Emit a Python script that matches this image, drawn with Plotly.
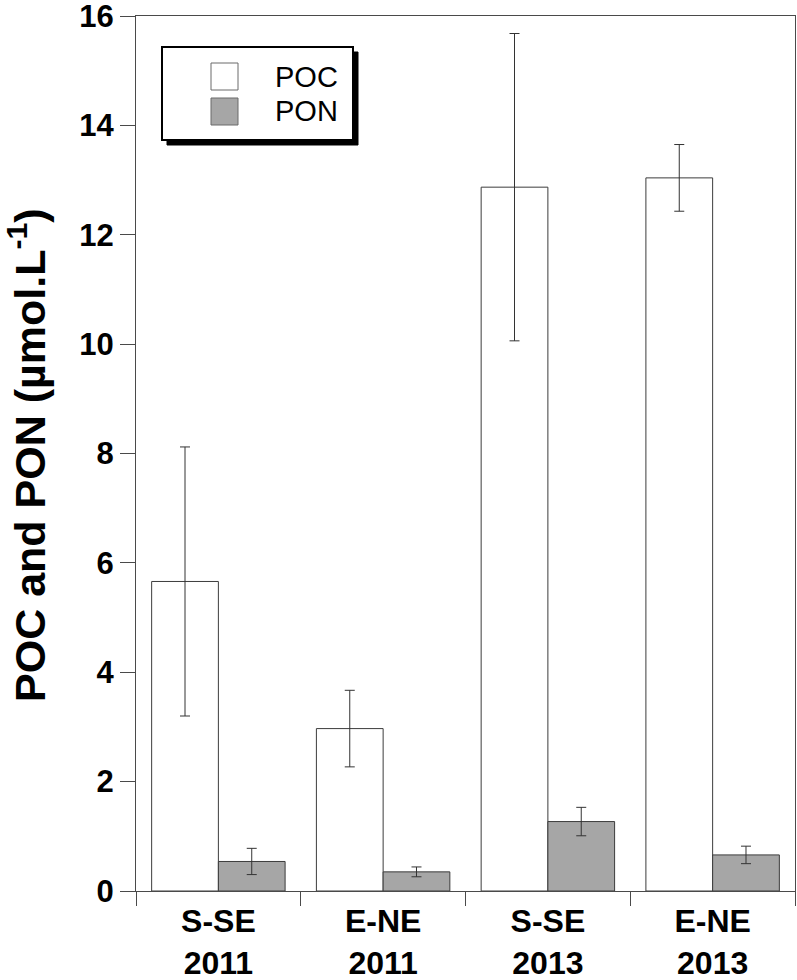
import plotly.graph_objects as go

# data
CATEGORIES :list[str] = ["S-SE<br>2011", "E-NE<br>2011", "S-SE<br>2013", "E-NE<br>2013"]
POC_VALUES :list[float] = [5.66, 2.97, 12.87, 13.04]
POC_ERRORS :list[float] = [2.46, 0.70, 2.81, 0.61]
PON_VALUES :list[float] = [0.54, 0.35, 1.27, 0.66]
PON_ERRORS :list[float] = [0.24, 0.09, 0.26, 0.16]
Y_TICKS :list[int] = [0, 2, 4, 6, 8, 10, 12, 14, 16]
Y_TITLE :str = "POC and PON (µmol.L<sup>-1</sup>)"

# styling
FONT_FAMILY :str = "Arial, Liberation Sans, sans-serif"
AXIS_COLOR :str = "#4a4a4a"
BAR_LINE_COLOR :str = "#3c3c3c"
POC_COLOR :str = "#ffffff"
PON_COLOR :str = "#a6a6a6"
ERROR_COLOR :str = "#333333"

WIDTH :int = 797
HEIGHT :int = 980
MARGIN :dict[str, int] = dict(l=136, r=2, t=16, b=89)


def px_to_paper_x(px: float) -> float:
    """Converts a pixel x position into paper coordinates."""
    return (px - MARGIN["l"]) / (WIDTH - MARGIN["l"] - MARGIN["r"])


def px_to_paper_y(px: float) -> float:
    """Converts a pixel y position (from top) into paper coordinates."""
    plot_h = HEIGHT - MARGIN["t"] - MARGIN["b"]
    return (HEIGHT - MARGIN["b"] - px) / plot_h


def build_bar(name: str, values: list[float], errors: list[float], color: str) -> go.Bar:
    return go.Bar(
        x=CATEGORIES,
        y=values,
        name=name,
        marker=dict(color=color, line=dict(color=BAR_LINE_COLOR, width=1)),
        error_y=dict(type="data", array=errors, visible=True, color=ERROR_COLOR, thickness=1, width=5),
        showlegend=False,
    )


fig = go.Figure()
fig.add_trace(build_bar("POC", POC_VALUES, POC_ERRORS, POC_COLOR))
fig.add_trace(build_bar("PON", PON_VALUES, PON_ERRORS, PON_COLOR))

# hand-drawn legend box with a drop shadow, like the original
legend_box = (162, 47, 353, 140)
shadow = 5
shapes = [
    dict(type="rect", xref="paper", yref="paper",
         x0=px_to_paper_x(legend_box[0] + shadow), x1=px_to_paper_x(legend_box[2] + shadow),
         y0=px_to_paper_y(legend_box[3] + shadow), y1=px_to_paper_y(legend_box[1] + shadow),
         fillcolor="black", line=dict(color="black", width=1), layer="above"),
    dict(type="rect", xref="paper", yref="paper",
         x0=px_to_paper_x(legend_box[0]), x1=px_to_paper_x(legend_box[2]),
         y0=px_to_paper_y(legend_box[3]), y1=px_to_paper_y(legend_box[1]),
         fillcolor="white", line=dict(color="black", width=2), layer="above"),
]
annotations = []
for (name, color, top) in [("POC", POC_COLOR, 63), ("PON", PON_COLOR, 98)]:
    shapes.append(dict(type="rect", xref="paper", yref="paper",
                       x0=px_to_paper_x(211), x1=px_to_paper_x(238),
                       y0=px_to_paper_y(top + 27), y1=px_to_paper_y(top),
                       fillcolor=color, line=dict(color="#6a6a6a", width=1), layer="above"))
    annotations.append(dict(text=name, xref="paper", yref="paper",
                            x=px_to_paper_x(273), y=px_to_paper_y(top + 13.5),
                            xanchor="left", yanchor="middle", showarrow=False,
                            font=dict(family=FONT_FAMILY, size=29, color="black")))

# y-axis title as a rotated annotation so its position is fixed
annotations.append(dict(text=Y_TITLE, xref="paper", yref="paper",
                        x=px_to_paper_x(27), y=px_to_paper_y(455),
                        xanchor="center", yanchor="middle", textangle=-90, showarrow=False,
                        font=dict(family=FONT_FAMILY, size=43, color="black", weight="bold")))

fig.update_layout(
    width=WIDTH,
    height=HEIGHT,
    margin=MARGIN,
    plot_bgcolor="white",
    paper_bgcolor="white",
    barmode="group",
    bargap=0.19,
    bargroupgap=0,
    font=dict(family=FONT_FAMILY, color="black"),
    shapes=shapes,
    annotations=annotations,
    xaxis=dict(
        automargin=False,
        showgrid=False,
        showline=True,
        linecolor=AXIS_COLOR,
        linewidth=1,
        mirror=True,
        ticks="outside",
        tickson="boundaries",
        ticklen=14,
        tickcolor=AXIS_COLOR,
        ticklabelstandoff=2,
        ticklabeloverflow="allow",
        tickfont=dict(family=FONT_FAMILY, size=32, color="black", weight="bold"),
    ),
    yaxis=dict(
        automargin=False,
        range=[0, 16],
        tickvals=Y_TICKS,
        showgrid=False,
        zeroline=False,
        showline=True,
        linecolor=AXIS_COLOR,
        linewidth=1,
        mirror=True,
        ticks="outside",
        ticklen=15,
        tickcolor=AXIS_COLOR,
        ticklabeloverflow="allow",
        tickfont=dict(family=FONT_FAMILY, size=31, color="black", weight="bold"),
    ),
)

# drop the browser's default body margin so the figure sits at the page corner
fig.write_html(
    "out.html",
    config=dict(displayModeBar=False),
    post_script="document.body.style.margin='0px';",
)
